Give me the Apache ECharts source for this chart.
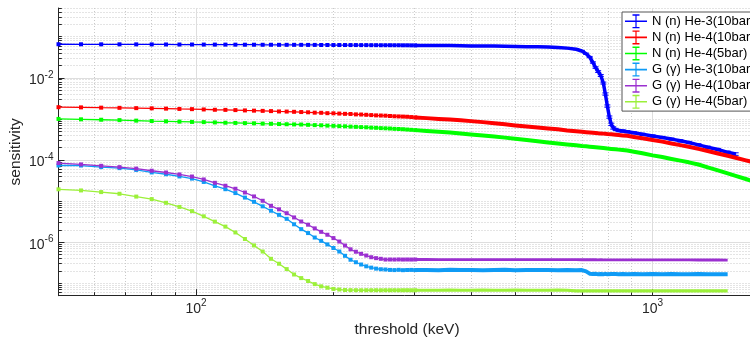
<!DOCTYPE html>
<html><head><meta charset="utf-8">
<script src="https://cdn.jsdelivr.net/npm/echarts@6/dist/echarts.min.js"></script>
<style>html,body{margin:0;padding:0;background:#fff;overflow:hidden}#c{width:750px;height:344px}</style>
</head><body><div id="c"></div>
<script>
const seriesNames = ['N (n) He-3(10bar)', 'N (n) He-4(10bar)', 'N (n) He-4(5bar)', 'G (\u03b3) He-3(10bar)', 'G (\u03b3) He-4(10bar)', 'G (\u03b3) He-4(5bar)'];
const seriesColors = ['#0000ff', '#ff0000', '#00ff00', '#0f9bf5', '#9b30d0', '#9cf03a'];

const xMin = 50, xMax = 1680, yMin = 5e-8, yMax = 0.5;
const xMajorTicks = [100, 1000];
const xMinorTicks = [60, 70, 80, 90, 200, 300, 400, 500, 600, 700, 800, 900];
const yMajorTicks = [1e-6, 1e-4, 1e-2];

const thresholdsLow = [50,56,62,68,74,80,86,92,98,104,110,116,122,128,134,140,146,152,158,164,170,176,182,188,194,200,206,212,218,224,230,236,242,248,254,260,266,272,278,284,290,296,302];
const thresholdsHigh = [320,340,360,380,400,425,450,475,500,530,560,590,620,650,680,700,715,728,740,750,760,770,780,788,796,804,812,820,830,842,860,880,910,950,1000,1050,1100,1150,1200,1260,1320,1390,1460,1520,1600,1680];

const nHe3Low = [0.0657,0.0655,0.0653,0.0653,0.0652,0.0650,0.0648,0.0646,0.0646,0.0644,0.0643,0.0643,0.0641,0.0639,0.0639,0.0637,0.0637,0.0635,0.0635,0.0635,0.0634,0.0632,0.0632,0.0630,0.0630,0.0628,0.0628,0.0628,0.0627,0.0627,0.0625,0.0625,0.0623,0.0623,0.0621,0.0621,0.0621,0.0620,0.0620,0.0618,0.0618,0.0616,0.0616];
const nHe3High = [0.0614,0.0611,0.0608,0.0604,0.0599,0.0594,0.0591,0.0584,0.0579,0.0574,0.0568,0.0562,0.0549,0.0528,0.0497,0.0449,0.0386,0.0321,0.0236,0.0178,0.0142,0.0114,0.00747,0.00404,0.00206,0.00111,0.000739,0.000604,0.000555,0.000522,0.000508,0.000488,0.000459,0.000422,0.000384,0.000353,0.000323,0.000293,0.000267,0.000234,0.000205,0.000180,0.000154,0.000140,null,null];
const nHe3Err = [0.0015,0.0015,0.0015,0.0015,0.0015,0.0015,0.0015,0.0015,0.0015,0.0015,0.0015,0.0015,0.0015,0.0015,0.0015,0.0015,0.0013,0.0011,0.0009,0.0008,0.0007,0.0006,0.0004,0.00025,0.00013,0.00007,0.00005,0.00004,0.000035,0.000033,0.000032,0.00003,0.000028,0.000026,0.000024,0.000022,0.00002,0.000019,0.000017,0.000015,0.000013,0.000012,0.000011,0.00001,null,null];

const nHe4p10Low = [1.93e-3,1.91e-3,1.88e-3,1.86e-3,1.83e-3,1.81e-3,1.78e-3,1.75e-3,1.73e-3,1.70e-3,1.67e-3,1.66e-3,1.64e-3,1.61e-3,1.59e-3,1.57e-3,1.55e-3,1.52e-3,1.51e-3,1.49e-3,1.47e-3,1.45e-3,1.42e-3,1.41e-3,1.38e-3,1.37e-3,1.35e-3,1.33e-3,1.32e-3,1.29e-3,1.28e-3,1.26e-3,1.24e-3,1.22e-3,1.21e-3,1.20e-3,1.18e-3,1.16e-3,1.15e-3,1.14e-3,1.13e-3,1.11e-3,1.09e-3];
const nHe4p10High = [1.046e-3,1.000e-3,9.67e-4,9.25e-4,8.84e-4,8.36e-4,7.86e-4,7.39e-4,6.95e-4,6.53e-4,6.18e-4,5.87e-4,5.58e-4,5.25e-4,5.02e-4,4.88e-4,4.77e-4,4.69e-4,4.62e-4,4.56e-4,4.49e-4,4.44e-4,4.39e-4,4.34e-4,4.29e-4,4.24e-4,4.22e-4,4.17e-4,4.13e-4,4.06e-4,3.97e-4,3.88e-4,3.65e-4,3.37e-4,3.07e-4,2.80e-4,2.53e-4,2.30e-4,2.11e-4,1.87e-4,1.66e-4,1.44e-4,1.27e-4,1.14e-4,9.83e-5,8.55e-5];

const nHe4p5Low = [1.00e-3,9.78e-4,9.56e-4,9.35e-4,9.09e-4,8.89e-4,8.74e-4,8.60e-4,8.45e-4,8.36e-4,8.22e-4,8.08e-4,7.99e-4,7.90e-4,7.81e-4,7.68e-4,7.60e-4,7.51e-4,7.43e-4,7.35e-4,7.31e-4,7.19e-4,7.07e-4,6.99e-4,6.87e-4,6.79e-4,6.68e-4,6.61e-4,6.50e-4,6.42e-4,6.32e-4,6.25e-4,6.14e-4,6.08e-4,5.97e-4,5.91e-4,5.84e-4,5.74e-4,5.68e-4,5.62e-4,5.52e-4,5.43e-4,5.34e-4];
const nHe4p5High = [5.11e-4,4.86e-4,4.67e-4,4.41e-4,4.20e-4,3.95e-4,3.73e-4,3.51e-4,3.30e-4,3.07e-4,2.87e-4,2.68e-4,2.52e-4,2.40e-4,2.28e-4,2.20e-4,2.16e-4,2.11e-4,2.07e-4,2.04e-4,2.01e-4,1.98e-4,1.95e-4,1.93e-4,1.90e-4,1.88e-4,1.86e-4,1.84e-4,1.82e-4,1.79e-4,1.75e-4,1.70e-4,1.59e-4,1.46e-4,1.30e-4,1.18e-4,1.06e-4,9.67e-5,8.79e-5,7.77e-5,6.64e-5,5.58e-5,4.72e-5,4.13e-5,3.45e-5,2.91e-5];

const gHe3Low = [7.35e-5,7.35e-5,6.72e-5,6.35e-5,5.74e-5,4.99e-5,4.51e-5,3.99e-5,3.53e-5,2.93e-5,2.34e-5,1.95e-5,1.57e-5,1.22e-5,9.62e-6,7.47e-6,5.84e-6,4.64e-6,3.71e-6,2.73e-6,2.08e-6,1.67e-6,1.30e-6,1.08e-6,8.84e-7,7.23e-7,5.94e-7,4.67e-7,3.75e-7,3.26e-7,2.87e-7,2.59e-7,2.41e-7,2.28e-7,2.20e-7,2.17e-7,2.12e-7,2.10e-7,2.13e-7,2.09e-7,2.11e-7,2.12e-7,2.10e-7];
const gHe3High = [2.12e-7,2.09e-7,2.13e-7,2.10e-7,2.12e-7,2.08e-7,2.11e-7,2.13e-7,2.09e-7,2.11e-7,2.10e-7,2.12e-7,2.09e-7,2.11e-7,2.08e-7,2.10e-7,1.95e-7,1.72e-7,1.68e-7,1.70e-7,1.66e-7,1.69e-7,1.67e-7,1.70e-7,1.66e-7,1.68e-7,1.69e-7,1.66e-7,1.68e-7,1.67e-7,1.69e-7,1.66e-7,1.68e-7,1.67e-7,1.69e-7,1.66e-7,1.68e-7,1.67e-7,1.66e-7,1.68e-7,1.67e-7,1.66e-7,1.67e-7,null,null,null];

const gHe4p10Low = [8.45e-5,7.82e-5,7.23e-5,6.72e-5,6.18e-5,5.49e-5,4.97e-5,4.46e-5,3.97e-5,3.37e-5,2.79e-5,2.37e-5,2.00e-5,1.62e-5,1.30e-5,1.02e-5,7.69e-6,6.32e-6,5.08e-6,4.01e-6,3.19e-6,2.67e-6,2.17e-6,1.79e-6,1.52e-6,1.26e-6,1.04e-6,8.31e-7,6.72e-7,5.87e-7,5.22e-7,4.75e-7,4.32e-7,4.10e-7,3.95e-7,3.79e-7,3.80e-7,3.79e-7,3.81e-7,3.79e-7,3.80e-7,3.79e-7,3.80e-7];
const gHe4p10High = [3.80e-7,3.79e-7,3.79e-7,3.78e-7,3.79e-7,3.78e-7,3.78e-7,3.77e-7,3.78e-7,3.77e-7,3.77e-7,3.76e-7,3.77e-7,3.76e-7,3.76e-7,3.75e-7,3.76e-7,3.75e-7,3.75e-7,3.75e-7,3.74e-7,3.75e-7,3.74e-7,3.74e-7,3.74e-7,3.73e-7,3.74e-7,3.73e-7,3.73e-7,3.73e-7,3.72e-7,3.72e-7,3.72e-7,3.71e-7,3.71e-7,3.71e-7,3.70e-7,3.70e-7,3.70e-7,3.69e-7,3.69e-7,3.69e-7,3.68e-7,null,null,null];

const gHe4p5Low = [1.94e-5,1.82e-5,1.66e-5,1.51e-5,1.29e-5,1.12e-5,9.10e-6,7.23e-6,5.71e-6,4.27e-6,3.17e-6,2.40e-6,1.73e-6,1.20e-6,8.36e-7,5.94e-7,3.95e-7,3.00e-7,2.22e-7,1.64e-7,1.34e-7,1.14e-7,9.57e-8,8.45e-8,7.82e-8,7.31e-8,7.07e-8,6.87e-8,6.82e-8,6.80e-8,6.78e-8,6.80e-8,6.79e-8,6.80e-8,6.78e-8,6.80e-8,6.79e-8,6.80e-8,6.78e-8,6.79e-8,6.80e-8,6.78e-8,6.79e-8];
const gHe4p5High = [6.79e-8,6.78e-8,6.80e-8,6.79e-8,6.78e-8,6.80e-8,6.79e-8,6.78e-8,6.80e-8,6.79e-8,6.78e-8,6.79e-8,6.80e-8,6.78e-8,6.56e-8,6.55e-8,6.56e-8,6.55e-8,6.54e-8,6.55e-8,6.56e-8,6.55e-8,6.54e-8,6.55e-8,6.56e-8,6.55e-8,6.54e-8,6.55e-8,6.56e-8,6.55e-8,6.54e-8,6.55e-8,6.56e-8,6.55e-8,6.54e-8,6.55e-8,6.56e-8,6.55e-8,6.54e-8,6.55e-8,6.56e-8,6.55e-8,6.54e-8,null,null,null];

const lowSets = [nHe3Low, nHe4p10Low, nHe4p5Low, gHe3Low, gHe4p10Low, gHe4p5Low];
const highSets = [nHe3High, nHe4p10High, nHe4p5High, gHe3High, gHe4p10High, gHe4p5High];
const highWidths = [3.5, 4, 4, 4, 2.8, 3.2];

const FONT = 'Liberation Sans, Arial, Helvetica, sans-serif';
const AX = '#262626';

// minor tick positions on the log y axis (decoration)
const yMinorTicks = [];
for (let e = -8; e <= -1; e++) {
  for (let k = 1; k <= 9; k++) {
    if (k === 1 && e % 2 === 0) continue;
    const v = k * Math.pow(10, e);
    if (v >= yMin * 0.999 && v <= yMax * 1.001) yMinorTicks.push(v);
  }
}

function zip(xs, ys) {
  const out = [];
  xs.forEach((x, i) => { if (ys[i] != null) out.push([x, ys[i]]); });
  return out;
}

const richLabel = {
  b: { fontFamily: FONT, fontSize: 14, color: AX, lineHeight: 16 },
  s: { fontFamily: FONT, fontSize: 10, color: AX, lineHeight: 10, padding: [0, 0, 10, 0] }
};
function powLabel(v) {
  const e = Math.round(Math.log10(v));
  return '{b|10}{s|' + e + '}';
}

const series = [];
seriesNames.forEach((name, i) => {
  const lowData = zip(thresholdsLow, lowSets[i]);
  series.push({
    name: name, type: 'line', xAxisIndex: 0, yAxisIndex: 0,
    data: lowData, symbol: 'rect', symbolSize: 4, showSymbol: true,
    color: seriesColors[i],
    itemStyle: { color: seriesColors[i] },
    lineStyle: { color: seriesColors[i], width: 1.3 },
    animation: false, silent: true, z: 3 + i
  });
  const highData = [lowData[lowData.length - 1]].concat(zip(thresholdsHigh, highSets[i]));
  series.push({
    name: name, type: 'line', xAxisIndex: 0, yAxisIndex: 0,
    data: highData, symbol: 'none', showSymbol: false,
    color: seriesColors[i],
    lineStyle: { color: seriesColors[i], width: highWidths[i], cap: 'butt', join: 'round' },
    animation: false, silent: true, z: 3 + i
  });
});

// error bars for the He-3 neutron curve
const errData = [];
thresholdsHigh.forEach((x, i) => {
  if (nHe3High[i] != null && nHe3Err[i] != null) errData.push([x, nHe3High[i] - nHe3Err[i], nHe3High[i] + nHe3Err[i]]);
});
series.push({
  name: 'errbars', type: 'custom', xAxisIndex: 0, yAxisIndex: 0,
  data: errData, encode: { x: 0, y: [1, 2] }, silent: true, animation: false, z: 3,
  renderItem: function (params, api) {
    const x = api.value(0);
    const lo = api.coord([x, api.value(1)]);
    const hi = api.coord([x, api.value(2)]);
    const w = 3;
    const st = { stroke: seriesColors[0], lineWidth: 1 };
    return { type: 'group', children: [
      { type: 'line', shape: { x1: lo[0], y1: lo[1], x2: hi[0], y2: hi[1] }, style: st },
      { type: 'line', shape: { x1: lo[0] - w, y1: lo[1], x2: lo[0] + w, y2: lo[1] }, style: st },
      { type: 'line', shape: { x1: hi[0] - w, y1: hi[1], x2: hi[0] + w, y2: hi[1] }, style: st }
    ] };
  }
});

const errIcon = 'path://M0,6.2L22,6.2L22,7.8L0,7.8Z M10.4,1.2L11.6,1.2L11.6,12.8L10.4,12.8Z M7.5,0L14.5,0L14.5,1.4L7.5,1.4Z M7.5,12.6L14.5,12.6L14.5,14L7.5,14Z';

const option = {
  backgroundColor: '#ffffff',
  animation: false,
  grid: { left: 58.5, top: 8, width: 697, height: 287.7, containLabel: false, outerBoundsMode: 'none' },
  xAxis: [
    {
      type: 'log', logBase: 10, min: xMin, max: xMax, position: 'bottom',
      name: 'threshold (keV)', nameLocation: 'middle', nameGap: 26, nameMoveOverlap: false,
      nameTextStyle: { fontFamily: FONT, fontSize: 15.5, color: AX },
      axisLine: { show: true, lineStyle: { color: AX, width: 1 } },
      axisTick: { show: true, inside: true, length: 6.5, customValues: xMajorTicks, lineStyle: { color: AX, width: 1 } },
      axisLabel: { show: true, customValues: xMajorTicks, formatter: powLabel, rich: richLabel, margin: 5 },
      splitLine: { show: true, lineStyle: { color: '#dedede', width: 1 } }
    },
    {
      type: 'log', logBase: 10, min: xMin, max: xMax, position: 'bottom',
      axisLine: { show: false },
      axisTick: { show: true, inside: true, length: 3.5, customValues: xMinorTicks, lineStyle: { color: AX, width: 1 } },
      axisLabel: { show: false },
      splitLine: { show: true, lineStyle: { color: '#c9c9c9', width: 1, type: [1, 2] } }
    }
  ],
  yAxis: [
    {
      type: 'log', logBase: 10, min: yMin, max: yMax, position: 'left',
      name: 'sensitivity', nameLocation: 'middle', nameGap: 35, nameRotate: 90, nameMoveOverlap: false,
      nameTextStyle: { fontFamily: FONT, fontSize: 15.5, color: AX },
      axisLine: { show: true, lineStyle: { color: AX, width: 1 } },
      axisTick: { show: true, inside: true, length: 6, customValues: yMajorTicks, lineStyle: { color: AX, width: 1 } },
      axisLabel: { show: true, customValues: yMajorTicks, formatter: powLabel, rich: richLabel, margin: 5, padding: [5, 0, 0, 0] },
      splitLine: { show: true, lineStyle: { color: '#dedede', width: 1 } }
    },
    {
      type: 'log', logBase: 10, min: yMin, max: yMax, position: 'left',
      axisLine: { show: false },
      axisTick: { show: true, inside: true, length: 3.3, customValues: yMinorTicks, lineStyle: { color: AX, width: 1 } },
      axisLabel: { show: false },
      splitLine: { show: true, lineStyle: { color: '#c9c9c9', width: 1, type: [1, 2] } }
    }
  ],
  legend: {
    show: true, orient: 'vertical', left: 622, top: 12,
    itemWidth: 22, itemHeight: 14, itemGap: 2.1, symbolKeepAspect: false,
    padding: [2.3, 6, 2.3, 3],
    backgroundColor: '#ffffff', borderColor: '#555555', borderWidth: 1, borderRadius: 0,
    textStyle: { fontFamily: FONT, fontSize: 13, color: '#000000' },
    selectedMode: false,
    data: seriesNames.map(n => ({ name: n, icon: errIcon }))
  },
  series: series
};

const chart = echarts.init(document.getElementById('c'), null, { renderer: 'canvas', width: 750, height: 344 });
chart.setOption(option);
</script>
</body></html>
